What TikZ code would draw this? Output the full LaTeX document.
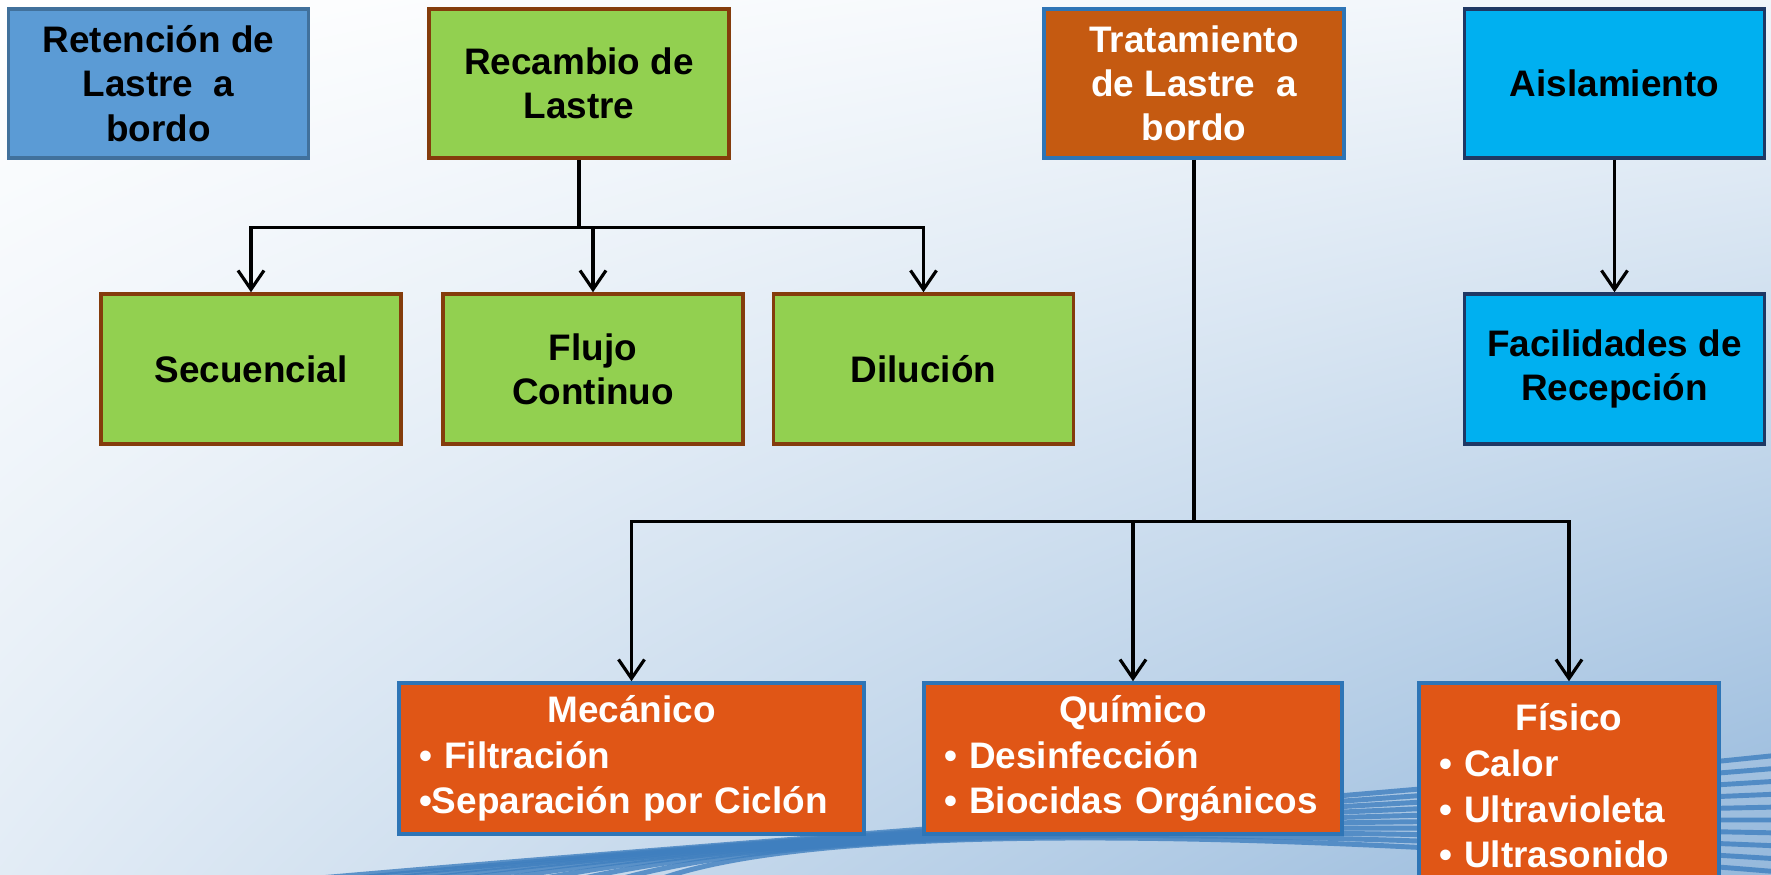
\documentclass[tikz,border=0pt]{standalone}
\usepackage{fontspec}
\setmainfont{Liberation Sans}
\usetikzlibrary{arrows.meta,shadings}

\definecolor{retblue}{HTML}{5B9BD5}
\definecolor{retline}{HTML}{41719C}
\definecolor{recgreen}{HTML}{92D050}
\definecolor{recline}{HTML}{843C0C}
\definecolor{tratbrown}{HTML}{C55A11}
\definecolor{aiscyan}{HTML}{00B0F0}
\definecolor{aisline}{HTML}{1F3864}
\definecolor{metorange}{HTML}{E05616}
\definecolor{metline}{HTML}{2E75B6}
\definecolor{stripe}{HTML}{3F7FBF}

\begin{document}
\begin{tikzpicture}[
    box/.style={
        rectangle,
        minimum width=3cm,
        minimum height=1.49cm,
        inner sep=0pt,
        line width=1pt,
        font=\fontsize{10.5}{12.6}\selectfont\bfseries,
        align=center
    },
    retbox/.style={box, draw=retline, fill=retblue},
    recbox/.style={box, draw=recline, fill=recgreen},
    tratbox/.style={box, draw=metline, fill=tratbrown, text=white},
    aisbox/.style={box, draw=aisline, fill=aiscyan},
    metbox/.style={
        box,
        draw=metline,
        fill=metorange,
        text=white,
        inner xsep=0.2cm,
        minimum height=1.51cm,
        font=\fontsize{10.5}{13}\selectfont\bfseries,
        align=left
    },
    link/.style={
        line width=1pt
    },
    arrow/.style={
        -{Straight Barb[length=1.9mm,width=2.6mm]},
        line width=0.9pt
    }
]

% Background
\useasboundingbox (0,0) rectangle (17.71,-8.75);
\shade[upper left=white, upper right=white!92!stripe, lower left=white!85!stripe,
       lower right=white!45!stripe] (0,0) rectangle (17.71,-8.75);
\foreach \i in {0,...,9}
    \draw[stripe, line width=1.4pt, opacity=0.8]
        (2.4+0.45*\i,-8.85) .. controls (8,-8.35+0.02*\i) and (13,-8.05-0.03*\i) .. (17.8,-7.55-0.13*\i);

% Top row
\node[retbox] (ret) at (1.585,-0.835) {Retención de\\Lastre\ \ a\\bordo};
\node[recbox] (rec) at (5.79,-0.835) {Recambio de\\Lastre};
\node[tratbox] (trat) at (11.94,-0.835) {Tratamiento\\de Lastre\ \ a\\bordo};
\node[aisbox] (ais) at (16.145,-0.835) {Aislamiento};

% Exchange methods
\node[recbox, minimum height=1.5cm] (sec) at (2.51,-3.69) {Secuencial};
\node[recbox, minimum height=1.5cm] (flu) at (5.93,-3.69) {Flujo\\Continuo};
\node[recbox, minimum height=1.5cm] (dil) at (9.235,-3.69) {Dilución};

% Reception
\node[aisbox, minimum height=1.5cm] (fac) at (16.145,-3.69) {Facilidades de\\Recepción};

% Treatment methods
\node[metbox, text width=4.25cm] (mec) at (6.315,-7.585)
    {\centering Mecánico\par\raggedright • Filtración\\•Separación por Ciclón};
\node[metbox, text width=3.78cm] (qui) at (11.33,-7.585)
    {\centering Químico\par\raggedright • Desinfección\\• Biocidas Orgánicos};
\node[metbox, text width=2.6cm, minimum height=2.06cm] (fis) at (15.69,-7.86)
    {\centering Físico\par\raggedright • Calor\\• Ultravioleta\\• Ultrasonido};

% Arrows
\path (rec.south) ++(0,-0.68) coordinate (recbus);
\draw[link] (rec.south) -- (recbus);
\draw[arrow] (recbus) -| (sec.north);
\draw[arrow] (recbus) -| (flu.north);
\draw[arrow] (recbus) -| (dil.north);

\path (trat.south) ++(0,-3.62) coordinate (tratbus);
\draw[link] (trat.south) -- (tratbus);
\draw[arrow] (tratbus) -| (mec.north);
\draw[arrow] (tratbus) -| (qui.north);
\draw[arrow] (tratbus) -| (fis.north);

\draw[arrow] (ais) -- (fac);

\end{tikzpicture}
\end{document}
